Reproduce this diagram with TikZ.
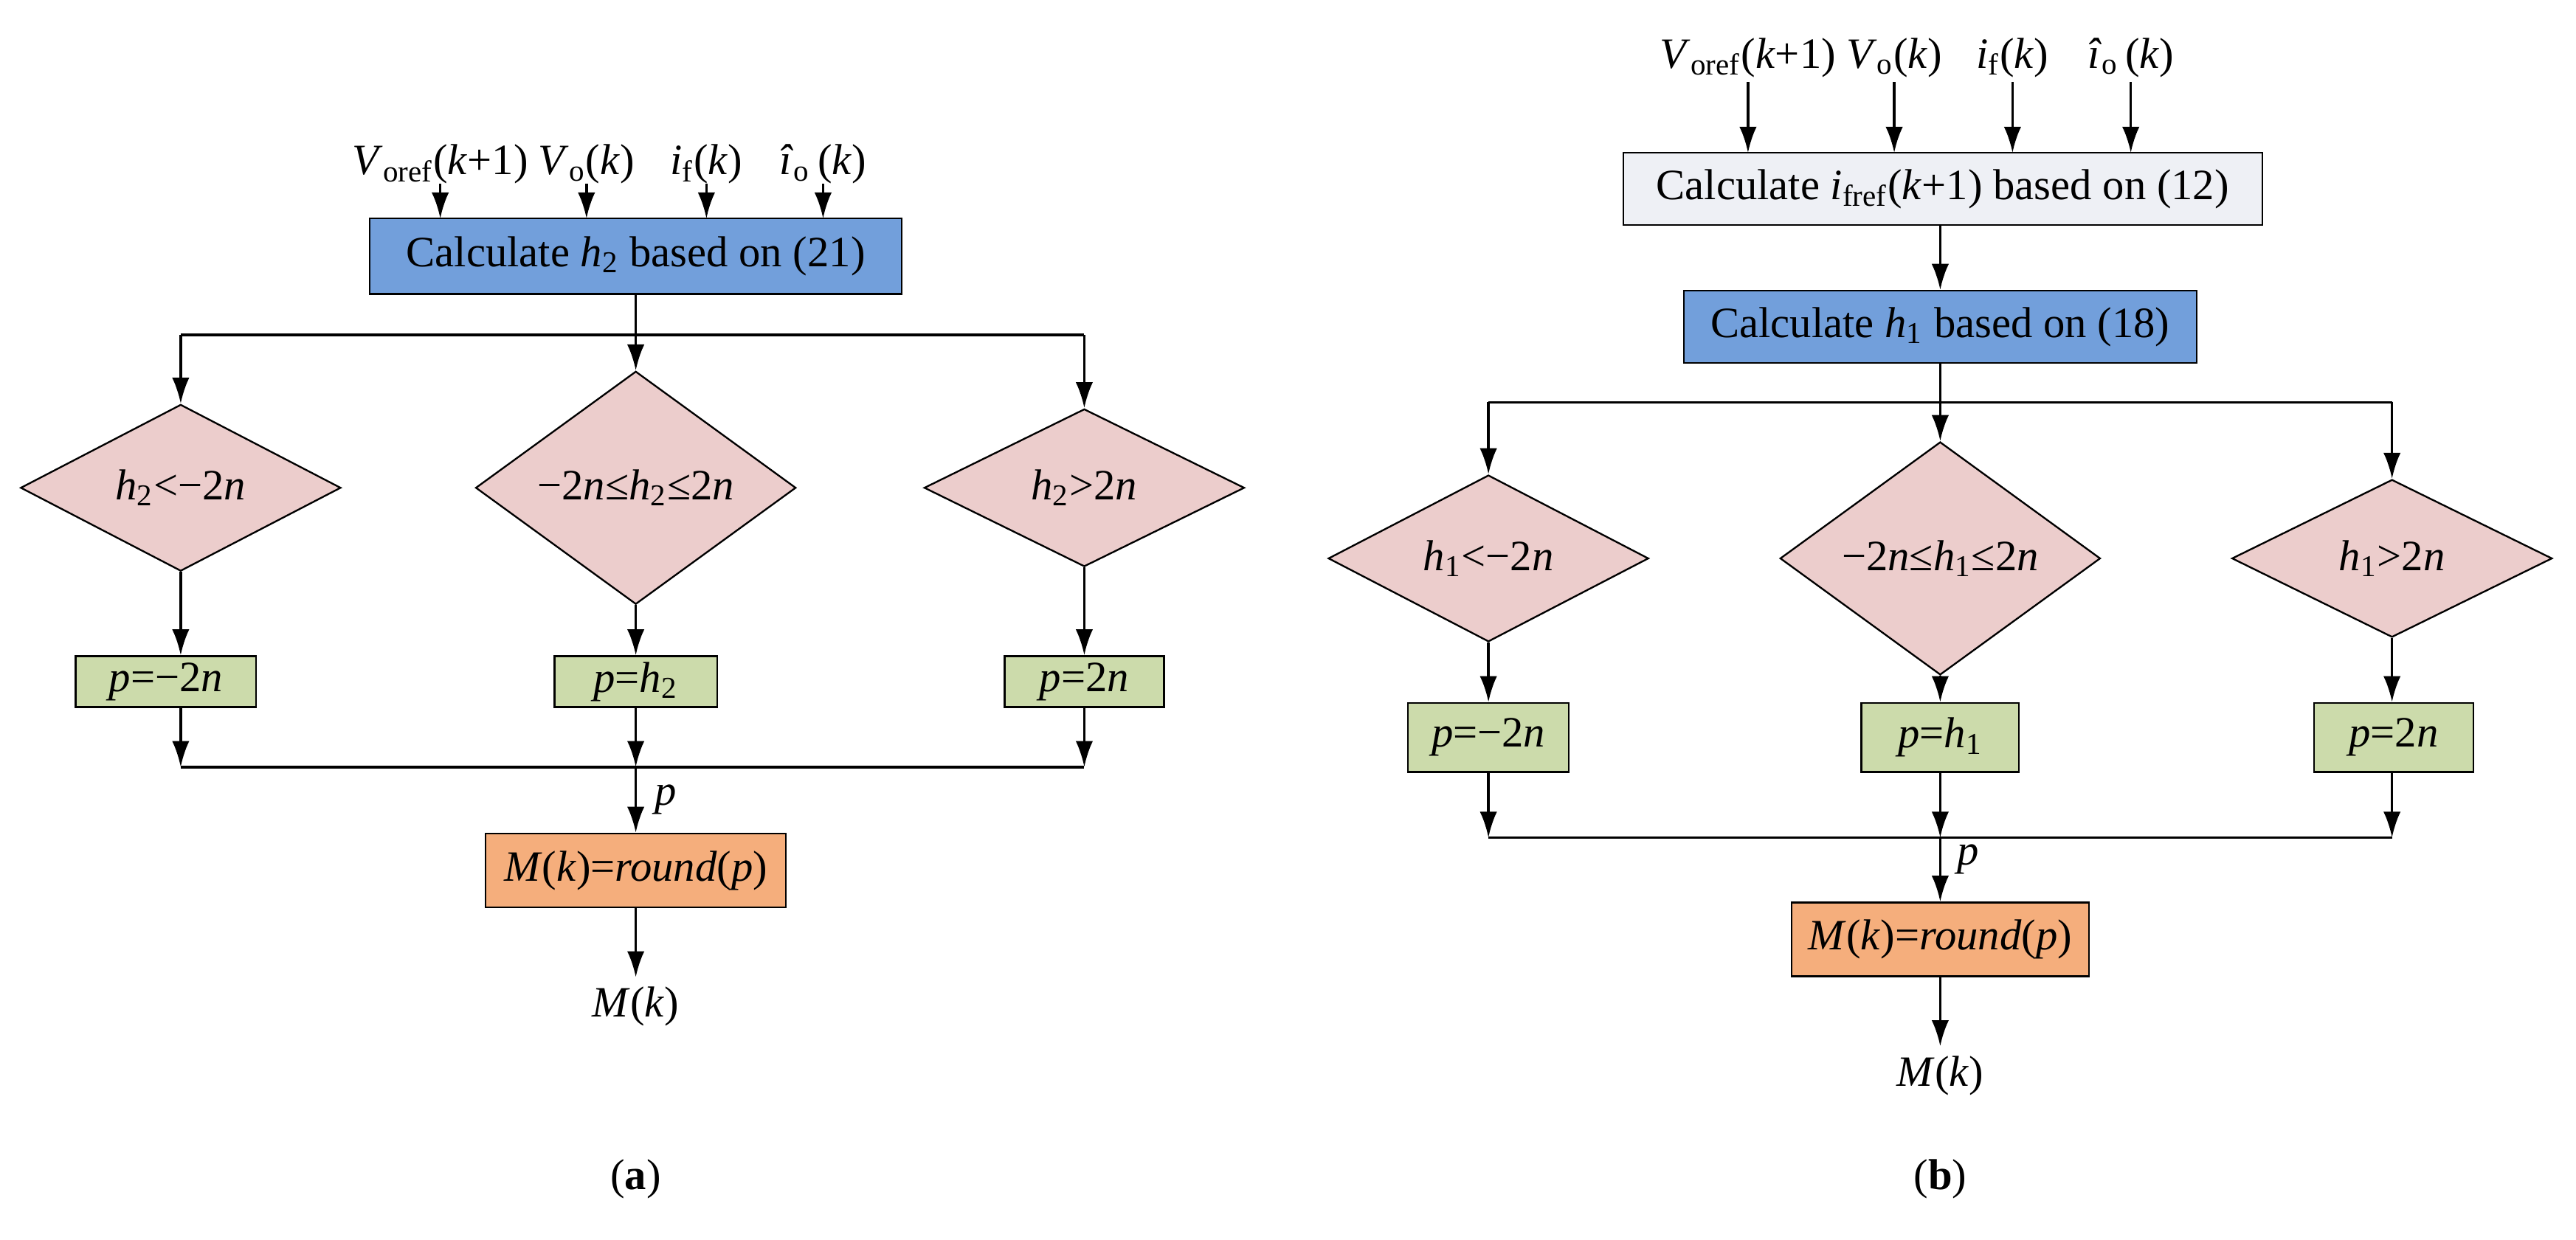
\documentclass[tikz,border=0pt]{standalone}
\usepackage{fontspec}
\setmainfont{Liberation Serif}
\usetikzlibrary{shapes.geometric,arrows.meta}
\definecolor{cblue}{HTML}{729FDB}
\definecolor{cpink}{HTML}{ECCDCC}
\definecolor{cgreen}{HTML}{CCDBAB}
\definecolor{corange}{HTML}{F5AE7C}
\definecolor{cgray}{HTML}{EEF0F5}
\newcommand{\iv}[1]{\textit{#1}}
\newcommand{\sbs}[1]{\textsubscript{#1}}
\begin{document}
\begin{tikzpicture}[x=0.02cm,y=-0.02cm,
  every node/.style={font=\fontsize{15}{18}\selectfont},
  box/.style={draw,line width=0.6pt,inner sep=0,anchor=center},
  dia/.style={diamond,draw,line width=0.6pt,fill=cpink,inner sep=0,minimum width=3.9cm,minimum height=1.92cm},
  arr/.style={line width=0.9pt,-{Latex[length=9pt,width=6pt]}},
  ln/.style={line width=0.9pt},
  lab/.style={inner sep=1pt}]
\useasboundingbox (0,0) rectangle (1568,755);
% ===== (a) =====
\node[lab] (a1) at (268,100) {\iv{V}\sbs{oref}(\iv{k}+1)};
\node[lab] (a2) at (357,100) {\iv{V}\sbs{o}(\iv{k})};
\node[lab] (a3) at (430,100) {\iv{i}\sbs{f}(\iv{k})};
\node[lab] (a4) at (501,100) {\iv{\^{\i}}\sbs{o}\,(\iv{k})};
\node[box,fill=cblue,minimum width=6.48cm,minimum height=0.92cm] (ab) at (387,156) {Calculate \iv{h}\sbs{2} based on (21)};
\foreach \x/\n in {268/a1,357/a2,430/a3,501/a4}{
  \coordinate (\n s) at (\x,112); \coordinate (\n e) at (\x,133);
  \draw[arr] (\n s) -- (\n e);}
\coordinate (aj) at (387,204);
\coordinate (ajl) at (110,204); \coordinate (ajr) at (660,204);
\node[dia] (ad1) at (110,297) {\iv{h}\sbs{2}<−2\iv{n}};
\node[dia] (ad2) at (387,297) {−2\iv{n}≤\iv{h}\sbs{2}≤2\iv{n}};
\node[dia] (ad3) at (660,297) {\iv{h}\sbs{2}>2\iv{n}};
\draw[ln] (ab.south) -- (aj);
\draw[ln] (ajl) -- (ajr);
\draw[arr] (ajl) -- (ad1.north);
\draw[arr] (aj) -- (ad2.north);
\draw[arr] (ajr) -- (ad3.north);
\node[box,fill=cgreen,minimum width=2.2cm,minimum height=0.62cm] (ag1) at (101,415) {\iv{p}=−2\iv{n}};
\node[box,fill=cgreen,minimum width=1.98cm,minimum height=0.62cm] (ag2) at (387,415) {\iv{p}=\iv{h}\sbs{2}};
\node[box,fill=cgreen,minimum width=1.94cm,minimum height=0.62cm] (ag3) at (660,415) {\iv{p}=2\iv{n}};
\draw[arr] (ad1.south) -- (ad1.south|-ag1.north);
\draw[arr] (ad2.south) -- (ag2.north);
\draw[arr] (ad3.south) -- (ag3.north);
\coordinate (ml) at (110,467); \coordinate (mm) at (387,467); \coordinate (mr) at (660,467);
\draw[arr] (ad1.south|-ag1.south) -- (ml);
\draw[arr] (ag2.south) -- (mm);
\draw[arr] (ag3.south) -- (mr);
\draw[ln] (ml) -- (mr);
\node[box,fill=corange,minimum width=3.66cm,minimum height=0.9cm] (ao) at (387,530) {\iv{M}(\iv{k})=\iv{round}(\iv{p})};
\draw[arr] (mm) -- (ao.north);
\node[lab] (ap) at (405,487) {\iv{p}};
\coordinate (aoe) at (387,595);
\draw[arr] (ao.south) -- (aoe);
\node[lab] (am) at (387,613) {\iv{M}(\iv{k})};
\node (acap) at (387,718) {(\textbf{a})};
% ===== (b) =====
\node[lab] (b1) at (1064,35) {\iv{V}\sbs{oref}(\iv{k}+1)};
\node[lab] (b2) at (1153,35) {\iv{V}\sbs{o}(\iv{k})};
\node[lab] (b3) at (1225,35) {\iv{i}\sbs{f}(\iv{k})};
\node[lab] (b4) at (1297,35) {\iv{\^{\i}}\sbs{o}\,(\iv{k})};
\node[box,fill=cgray,minimum width=7.78cm,minimum height=0.88cm] (bg) at (1182.5,115) {Calculate \iv{i}\sbs{fref}(\iv{k}+1) based on (12)};
\foreach \x/\n in {1064/b1,1153/b2,1225/b3,1297/b4}{
  \coordinate (\n s) at (\x,50); \coordinate (\n e) at (\x,93);
  \draw[arr] (\n s) -- (\n e);}
\node[box,fill=cblue,minimum width=6.24cm,minimum height=0.88cm] (bb) at (1181,199) {Calculate \iv{h}\sbs{1} based on (18)};
\draw[arr] (bg.south-|bb) -- (bb.north);
\coordinate (bj) at (1181,245);
\coordinate (bjl) at (906,245); \coordinate (bjr) at (1456,245);
\node[dia] (bd1) at (906,340) {\iv{h}\sbs{1}<−2\iv{n}};
\node[dia] (bd2) at (1181,340) {−2\iv{n}≤\iv{h}\sbs{1}≤2\iv{n}};
\node[dia] (bd3) at (1456,340) {\iv{h}\sbs{1}>2\iv{n}};
\draw[ln] (bb.south) -- (bj);
\draw[ln] (bjl) -- (bjr);
\draw[arr] (bjl) -- (bd1.north);
\draw[arr] (bj) -- (bd2.north);
\draw[arr] (bjr) -- (bd3.north);
\node[box,fill=cgreen,minimum width=1.96cm,minimum height=0.84cm] (bg1) at (906,449) {\iv{p}=−2\iv{n}};
\node[box,fill=cgreen,minimum width=1.92cm,minimum height=0.84cm] (bg2) at (1181,449) {\iv{p}=\iv{h}\sbs{1}};
\node[box,fill=cgreen,minimum width=1.94cm,minimum height=0.84cm] (bg3) at (1457,449) {\iv{p}=2\iv{n}};
\draw[arr] (bd1.south) -- (bg1.north);
\draw[arr] (bd2.south) -- (bg2.north);
\draw[arr] (bd3.south) -- (bd3.south|-bg3.north);
\coordinate (nl) at (906,510); \coordinate (nm) at (1181,510); \coordinate (nr) at (1456,510);
\draw[arr] (bg1.south) -- (nl);
\draw[arr] (bg2.south) -- (nm);
\draw[arr] (bd3.south|-bg3.south) -- (nr);
\draw[ln] (nl) -- (nr);
\node[box,fill=corange,minimum width=3.62cm,minimum height=0.9cm] (bo) at (1181,572) {\iv{M}(\iv{k})=\iv{round}(\iv{p})};
\draw[arr] (nm) -- (bo.north);
\node[lab] (bp) at (1198,523) {\iv{p}};
\coordinate (boe) at (1181,637);
\draw[arr] (bo.south) -- (boe);
\node[lab] (bm) at (1181,655) {\iv{M}(\iv{k})};
\node (bcap) at (1181,718) {(\textbf{b})};
\end{tikzpicture}
\end{document}
